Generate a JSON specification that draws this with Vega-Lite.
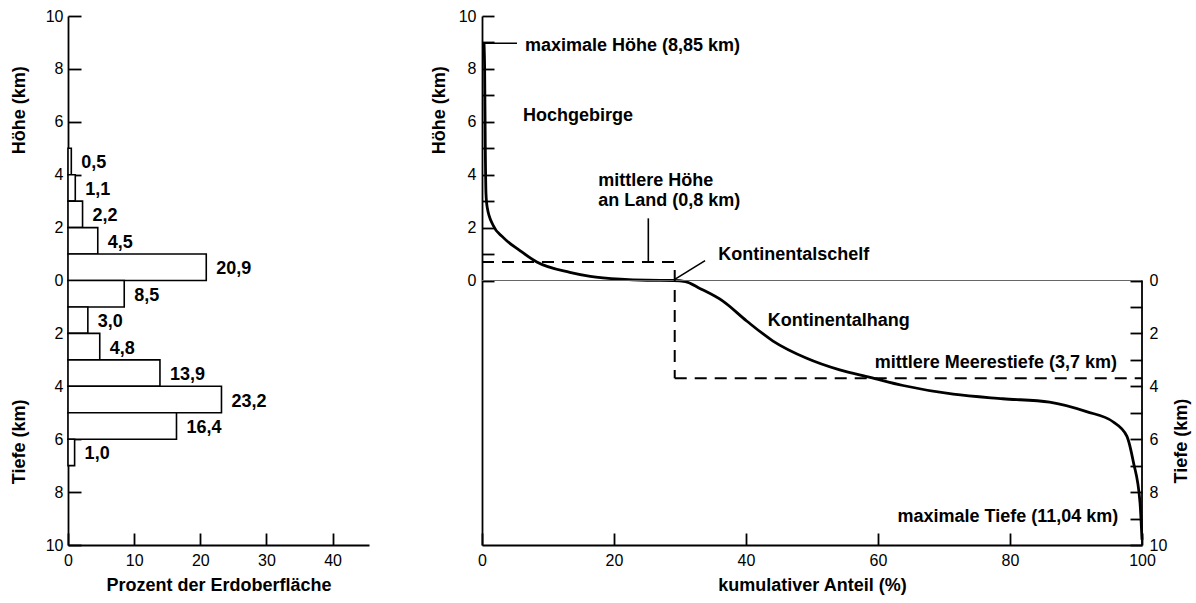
{
  "$schema": "https://vega.github.io/schema/vega-lite/v6.json",
  "background": "white",
  "padding": {"left": 10, "top": 8, "right": 5, "bottom": 5},
  "bounds": "flush",
  "spacing": 113,
  "config": {
    "view": {"stroke": null},
    "font": "Liberation Sans",
    "axis": {
      "grid": false,
      "domainColor": "black",
      "domainWidth": 1.8,
      "tickColor": "black",
      "tickWidth": 1.8,
      "labelFont": "Liberation Sans",
      "labelFontSize": 16,
      "labelColor": "black",
      "labelFlush": false,
      "titleFont": "Liberation Sans",
      "titleFontSize": 18,
      "titleFontWeight": "bold",
      "titleColor": "black"
    },
    "text": {"font": "Liberation Sans", "fontSize": 18, "fontWeight": "bold", "color": "black"}
  },
  "datasets": {
    "bars": [
      {"lo": 4, "hi": 5, "mid": 4.5, "pct": 0.5, "label": "0,5"},
      {"lo": 3, "hi": 4, "mid": 3.5, "pct": 1.1, "label": "1,1"},
      {"lo": 2, "hi": 3, "mid": 2.5, "pct": 2.2, "label": "2,2"},
      {"lo": 1, "hi": 2, "mid": 1.5, "pct": 4.5, "label": "4,5"},
      {"lo": 0, "hi": 1, "mid": 0.5, "pct": 20.9, "label": "20,9"},
      {"lo": -1, "hi": 0, "mid": -0.5, "pct": 8.5, "label": "8,5"},
      {"lo": -2, "hi": -1, "mid": -1.5, "pct": 3.0, "label": "3,0"},
      {"lo": -3, "hi": -2, "mid": -2.5, "pct": 4.8, "label": "4,8"},
      {"lo": -4, "hi": -3, "mid": -3.5, "pct": 13.9, "label": "13,9"},
      {"lo": -5, "hi": -4, "mid": -4.5, "pct": 23.2, "label": "23,2"},
      {"lo": -6, "hi": -5, "mid": -5.5, "pct": 16.4, "label": "16,4"},
      {"lo": -7, "hi": -6, "mid": -6.5, "pct": 1.0, "label": "1,0"}
    ],
    "leftTitles": [
      {"x": -7.3, "y": 6.44, "t": "Höhe (km)"},
      {"x": -7.3, "y": -6.1, "t": "Tiefe (km)"}
    ],
    "curve": [
      {"p": 0.3, "h": 9.0},
      {"p": 0.4, "h": 8.0},
      {"p": 0.5, "h": 5.0},
      {"p": 0.6, "h": 3.3},
      {"p": 0.8, "h": 2.75},
      {"p": 1.7, "h": 2.08},
      {"p": 3.2, "h": 1.63},
      {"p": 5.8, "h": 1.12},
      {"p": 8.3, "h": 0.7},
      {"p": 13.3, "h": 0.31},
      {"p": 16.4, "h": 0.16},
      {"p": 21.0, "h": 0.05},
      {"p": 25.0, "h": 0.01},
      {"p": 29.0, "h": 0.0},
      {"p": 30.8, "h": -0.04},
      {"p": 33.0, "h": -0.3},
      {"p": 36.5, "h": -0.78},
      {"p": 40.1, "h": -1.53},
      {"p": 44.1, "h": -2.29},
      {"p": 49.2, "h": -2.94},
      {"p": 54.2, "h": -3.38},
      {"p": 58.8, "h": -3.66},
      {"p": 63.8, "h": -3.97},
      {"p": 71.4, "h": -4.3},
      {"p": 78.9, "h": -4.47},
      {"p": 86.0, "h": -4.6},
      {"p": 91.6, "h": -4.96},
      {"p": 95.6, "h": -5.34},
      {"p": 97.7, "h": -5.88},
      {"p": 98.7, "h": -6.87},
      {"p": 99.7, "h": -8.4},
      {"p": 100, "h": -9.8}
    ],
    "dashed": [
      {"x": 0, "y": 0.7, "x2": 29.2, "y2": 0.7},
      {"x": 29.2, "y": 0.4, "x2": 29.2, "y2": -3.7},
      {"x": 29.2, "y": -3.7, "x2": 100, "y2": -3.7}
    ],
    "leaders": [
      {"x": 0.15, "y": 8.97, "x2": 5.3, "y2": 8.97},
      {"x": 25.2, "y": 2.35, "x2": 25.2, "y2": 0.7},
      {"x": 29.2, "y": 0.04, "x2": 33.8, "y2": 0.75}
    ],
    "notesLeft": [
      {"x": 6.5, "y": 8.85, "t": "maximale Höhe (8,85 km)"},
      {"x": 6.2, "y": 6.22, "t": "Hochgebirge"},
      {"x": 17.6, "y": 3.78, "t": "mittlere Höhe"},
      {"x": 17.6, "y": 3.0, "t": "an Land (0,8 km)"},
      {"x": 35.8, "y": 0.97, "t": "Kontinentalschelf"},
      {"x": 43.3, "y": -1.53, "t": "Kontinentalhang"}
    ],
    "notesRight": [
      {"x": 96.2, "y": -3.13, "t": "mittlere Meerestiefe (3,7 km)"},
      {"x": 96.4, "y": -8.93, "t": "maximale Tiefe (11,04 km)"}
    ],
    "rightTitles": [
      {"x": -6.4, "y": 6.44, "t": "Höhe (km)"},
      {"x": 106.1, "y": -6.07, "t": "Tiefe (km)"}
    ]
  },
  "hconcat": [
    {
      "width": 301,
      "height": 529,
      "layer": [
        {
          "data": {"name": "bars"},
          "mark": {"type": "rect", "fill": "white", "stroke": "black", "strokeWidth": 1.6},
          "encoding": {
            "x": {
              "field": "pct", "type": "quantitative",
              "scale": {"domain": [0, 45.5], "nice": false, "zero": false},
              "axis": {"values": [0, 10, 20, 30, 40], "tickSize": -12, "labelPadding": 19, "title": "Prozent der Erdoberfläche", "titlePadding": 8}
            },
            "x2": {"datum": 0},
            "y": {
              "field": "lo", "type": "quantitative",
              "scale": {"domain": [-10, 10], "nice": false, "zero": false},
              "axis": {
                "values": [-10, -9, -8, -7, -6, -5, -4, -3, -2, -1, 0, 1, 2, 3, 4, 5, 6, 7, 8, 9, 10],
                "tickSize": -13, "labelPadding": 18,
                "labelExpr": "datum.value % 2 === 0 ? '' + abs(datum.value) : ''",
                "title": null
              }
            },
            "y2": {"field": "hi"}
          }
        },
        {
          "data": {"name": "bars"},
          "mark": {"type": "text", "align": "left", "baseline": "middle", "dx": 10, "dy": 2},
          "encoding": {
            "x": {"field": "pct", "type": "quantitative"},
            "y": {"field": "mid", "type": "quantitative"},
            "text": {"field": "label"}
          }
        },
        {
          "data": {"name": "leftTitles"},
          "mark": {"type": "text", "angle": 270, "align": "center", "baseline": "middle"},
          "encoding": {
            "x": {"field": "x", "type": "quantitative"},
            "y": {"field": "y", "type": "quantitative"},
            "text": {"field": "t"}
          }
        }
      ]
    },
    {
      "width": 660,
      "height": 529,
      "layer": [
        {
          "layer": [
            {
              "data": {"name": "curve"},
              "mark": {"type": "line", "color": "black", "strokeWidth": 2.8, "interpolate": "monotone"},
              "encoding": {
                "x": {
                  "field": "p", "type": "quantitative",
                  "scale": {"domain": [0, 100], "nice": false, "zero": false},
                  "axis": {"values": [0, 20, 40, 60, 80, 100], "tickSize": -12, "labelPadding": 19, "title": "kumulativer Anteil (%)", "titlePadding": 8}
                },
                "y": {
                  "field": "h", "type": "quantitative",
                  "scale": {"domain": [-10, 10], "nice": false, "zero": false},
                  "axis": {
                    "values": [0, 1, 2, 3, 4, 5, 6, 7, 8, 9, 10],
                    "tickSize": -12, "labelPadding": 18,
                    "labelExpr": "datum.value % 2 === 0 ? '' + datum.value : ''",
                    "title": null
                  }
                }
              }
            },
            {
              "data": {"values": [{}]},
              "mark": {"type": "rule", "color": "#666666", "strokeWidth": 1.2},
              "encoding": {"y": {"datum": 0, "type": "quantitative"}}
            },
            {
              "data": {"name": "dashed"},
              "mark": {"type": "rule", "color": "black", "strokeWidth": 2, "strokeDash": [12, 8]},
              "encoding": {
                "x": {"field": "x", "type": "quantitative"},
                "y": {"field": "y", "type": "quantitative"},
                "x2": {"field": "x2"},
                "y2": {"field": "y2"}
              }
            },
            {
              "data": {"name": "leaders"},
              "mark": {"type": "rule", "color": "black", "strokeWidth": 1.6},
              "encoding": {
                "x": {"field": "x", "type": "quantitative"},
                "y": {"field": "y", "type": "quantitative"},
                "x2": {"field": "x2"},
                "y2": {"field": "y2"}
              }
            },
            {
              "data": {"name": "notesLeft"},
              "mark": {"type": "text", "align": "left", "baseline": "middle"},
              "encoding": {
                "x": {"field": "x", "type": "quantitative"},
                "y": {"field": "y", "type": "quantitative"},
                "text": {"field": "t"}
              }
            },
            {
              "data": {"name": "notesRight"},
              "mark": {"type": "text", "align": "right", "baseline": "middle"},
              "encoding": {
                "x": {"field": "x", "type": "quantitative"},
                "y": {"field": "y", "type": "quantitative"},
                "text": {"field": "t"}
              }
            },
            {
              "data": {"name": "rightTitles"},
              "mark": {"type": "text", "angle": 270, "align": "center", "baseline": "middle"},
              "encoding": {
                "x": {"field": "x", "type": "quantitative"},
                "y": {"field": "y", "type": "quantitative"},
                "text": {"field": "t"}
              }
            }
          ]
        },
        {
          "data": {"values": [{}]},
          "mark": {"type": "rule", "color": "black", "strokeWidth": 1.8},
          "encoding": {
            "x": {"datum": 100, "type": "quantitative"},
            "y": {
              "datum": 0, "type": "quantitative",
              "scale": {"domain": [-10, 10], "nice": false, "zero": false},
              "axis": {
                "orient": "right",
                "values": [0, -1, -2, -3, -4, -5, -6, -7, -8, -9, -10],
                "tickSize": -12, "labelPadding": 19, "domain": false,
                "labelExpr": "datum.value % 2 === 0 ? '' + abs(datum.value) : ''",
                "title": null
              }
            },
            "y2": {"datum": -10}
          }
        }
      ],
      "resolve": {"scale": {"y": "independent"}}
    }
  ]
}
